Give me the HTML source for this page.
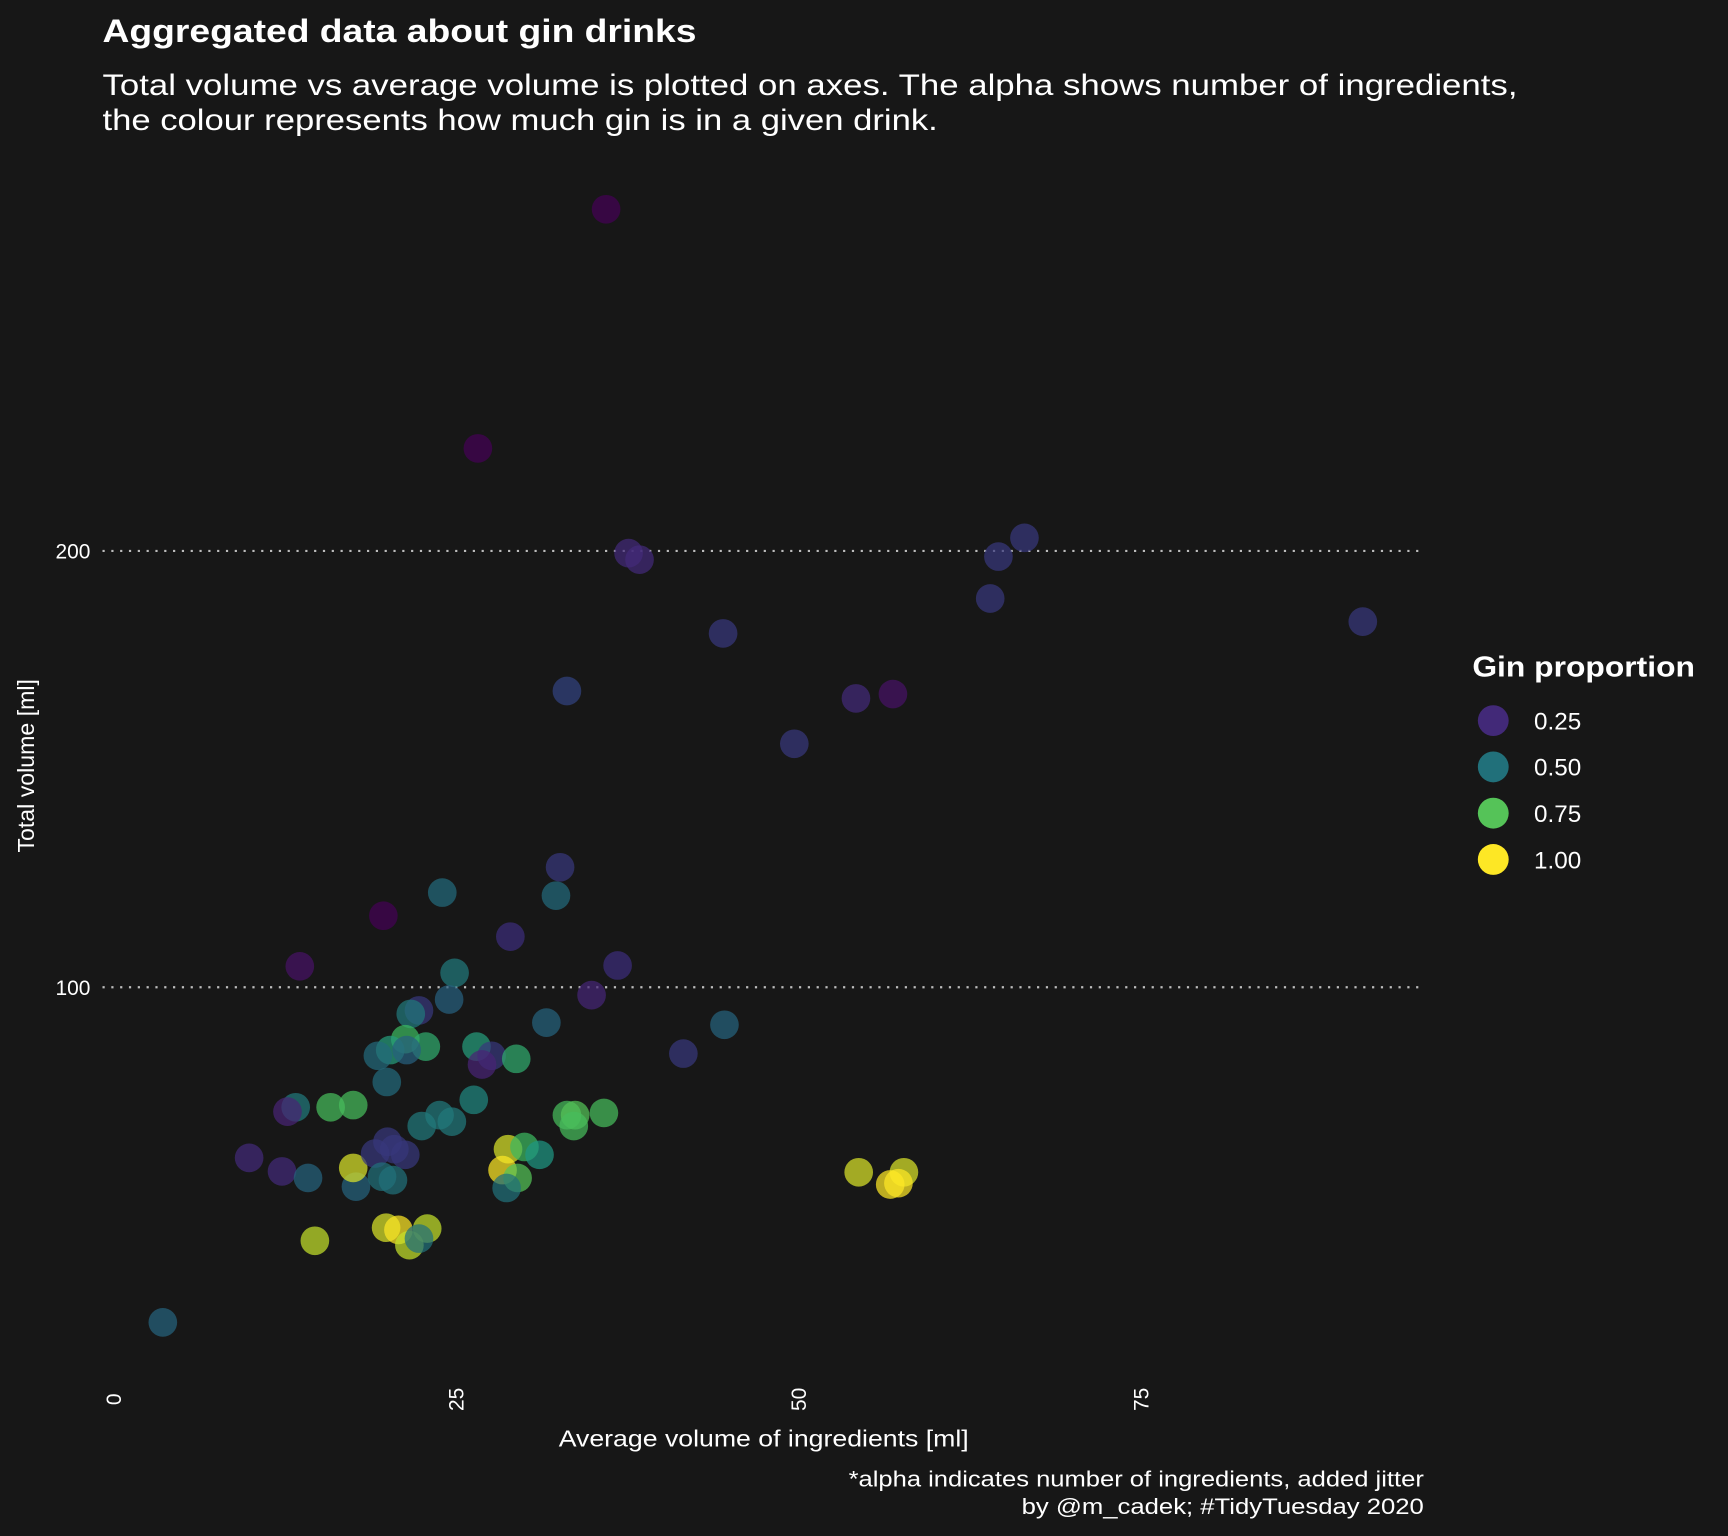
<!DOCTYPE html>
<html><head><meta charset="utf-8"><style>
html,body{margin:0;padding:0;background:#171717;}
svg{display:block;}
text{font-family:"Liberation Sans",Arial,sans-serif;fill:#fff;}
</style></head><body>
<svg id="chart" width="1728" height="1536" viewBox="0 0 1568 1394" preserveAspectRatio="none" xmlns="http://www.w3.org/2000/svg">
<rect width="1568" height="1394" fill="#171717"/>
<text x="93" y="38" font-size="29" font-weight="bold" textLength="539" lengthAdjust="spacingAndGlyphs">Aggregated data about gin drinks</text>
<text x="93" y="86" font-size="27" textLength="1284" lengthAdjust="spacingAndGlyphs">Total volume vs average volume is plotted on axes. The alpha shows number of ingredients,</text>
<text x="93" y="118" font-size="27" textLength="758" lengthAdjust="spacingAndGlyphs">the colour represents how much gin is in a given drink.</text>
<g id="grid"></g>
<g id="points"></g>
<g id="axes"></g>
<text x="507" y="1313" font-size="21" textLength="372" lengthAdjust="spacingAndGlyphs">Average volume of ingredients [ml]</text>
<text transform="translate(31,695) rotate(-90)" font-size="21" text-anchor="middle">Total volume [ml]</text>
<text x="770" y="1349" font-size="20" textLength="522" lengthAdjust="spacingAndGlyphs">*alpha indicates number of ingredients, added jitter</text>
<text x="927" y="1374" font-size="20" textLength="365" lengthAdjust="spacingAndGlyphs">by @m_cadek; #TidyTuesday 2020</text>
<g id="legend">
<text x="1336" y="614" font-size="26" font-weight="bold" textLength="202" lengthAdjust="spacingAndGlyphs">Gin proportion</text>
</g>
</svg>
<script>
const avgVolume = [35.96,26.6,37.6,38.4,66.5,64.6,64.0,91.2,44.5,33.1,54.2,56.9,49.7,32.6,24.0,32.3,19.7,28.97,13.6,36.8,24.9,34.9,24.5,22.3,21.7,31.6,44.6,21.3,22.8,26.5,20.2,19.3,21.4,41.6,27.6,29.4,26.9,19.95,13.3,12.7,15.85,17.5,26.3,33.1,33.7,35.8,33.6,23.8,24.7,22.5,9.9,12.3,14.2,17.7,17.5,20.0,20.5,21.3,19.1,19.6,20.4,28.8,30.0,31.1,28.4,29.5,28.7,54.4,57.7,56.7,57.3,14.7,19.9,20.8,22.9,21.6,22.3,3.6];
const totalVolume = [278.3,223.5,199.5,198,203,198.7,189.1,183.8,181.1,167.9,166.2,167.2,155.8,127.5,121.7,121,116.4,111.6,104.8,105,103.3,98.2,97.2,94.7,93.9,91.9,91.4,88.1,86.4,86.4,85.6,84.3,85.6,84.8,84.3,83.6,82.3,78.3,72.5,71.5,72.5,73,74.2,70.7,70.7,71.2,68.2,70.7,69.2,68.2,60.9,57.8,56.3,54.3,58.6,64.6,62.9,61.6,61.9,56.6,55.8,62.9,63.4,61.6,58.1,56.3,54.0,57.6,57.6,54.8,55.1,41.9,44.9,44.4,44.7,40.9,42.4,23.2];
const ginProportion = [0.1,0.1,0.25,0.25,0.33,0.33,0.33,0.33,0.33,0.36,0.25,0.15,0.33,0.33,0.48,0.48,0.1,0.3,0.15,0.3,0.52,0.22,0.45,0.33,0.52,0.46,0.46,0.7,0.66,0.62,0.62,0.48,0.45,0.33,0.33,0.66,0.2,0.48,0.52,0.2,0.72,0.72,0.56,0.72,0.75,0.72,0.72,0.52,0.52,0.52,0.25,0.25,0.46,0.46,0.95,0.33,0.33,0.33,0.33,0.5,0.5,0.95,0.7,0.6,1.0,0.75,0.5,0.95,0.95,1.0,1.0,0.92,0.95,1.0,0.92,0.92,0.5,0.46];
const xTicks = [0,25,50,75];
const yTicks = [100,200];
const legendValues = [0.25,0.5,0.75,1.0];
const legendLabels = ["0.25","0.50","0.75","1.00"];

const NS = "http://www.w3.org/2000/svg";
const xScale = v => 103 + v * 12.43;
const yScale = v => 1292 - v * 3.96;
const vir = [[68,1,84],[72,36,117],[59,45,122],[44,80,130],[33,112,122],[31,150,130],[60,185,95],[110,205,80],[180,222,44],[253,231,37]];
function colour(g){
  let t = Math.max(0, Math.min(1, (g - 0.1) / 0.9)) * (vir.length - 1);
  const i = Math.min(vir.length - 2, Math.floor(t)); const f = t - i;
  const c = vir[i].map((a, k) => Math.round(a + (vir[i+1][k] - a) * f));
  return `rgb(${c[0]},${c[1]},${c[2]})`;
}
const grid = document.getElementById('grid');
yTicks.forEach(v => {
  const l = document.createElementNS(NS, 'line');
  
  
  l.setAttribute('x1', 93); l.setAttribute('x2', 1292);
  l.setAttribute('y1', yScale(v)); l.setAttribute('y2', yScale(v));
  l.setAttribute('stroke', '#bdbdbd'); l.setAttribute('stroke-width', 2);
  l.setAttribute('stroke-dasharray', '2 6');
  grid.appendChild(l);
});
const axes = document.getElementById('axes');
yTicks.forEach(v => {
  const t = document.createElementNS(NS, 'text');
  
  
  t.setAttribute('x', 82); t.setAttribute('y', yScale(v) + 7);
  t.setAttribute('font-size', 19); t.setAttribute('text-anchor', 'end');
  t.textContent = String(v);
  axes.appendChild(t);
});
xTicks.forEach(v => {
  const t = document.createElementNS(NS, 'text');
  
  
  t.setAttribute('transform', `translate(${xScale(v) + 7},1270) rotate(-90)`);
  t.setAttribute('font-size', 19); t.setAttribute('text-anchor', 'middle');
  t.textContent = String(v);
  axes.appendChild(t);
});
const pts = document.getElementById('points');
avgVolume.forEach((x, i) => {
  const c = document.createElementNS(NS, 'circle');
  
  
  c.setAttribute('cx', xScale(x)); c.setAttribute('cy', yScale(totalVolume[i]));
  c.setAttribute('r', 13);
  c.setAttribute('fill', colour(ginProportion[i]));
  c.setAttribute('fill-opacity', 0.72);
  pts.appendChild(c);
});
const leg = document.getElementById('legend');
legendValues.forEach((g, i) => {
  const cy = 654 + i * 42;
  const c = document.createElementNS(NS, 'circle');
  
  
  c.setAttribute('cx', 1355); c.setAttribute('cy', cy); c.setAttribute('r', 14);
  c.setAttribute('fill', colour(g));
  leg.appendChild(c);
  const t = document.createElementNS(NS, 'text');
  
  
  t.setAttribute('x', 1392); t.setAttribute('y', cy + 8);
  t.setAttribute('font-size', 22);
  t.textContent = legendLabels[i];
  leg.appendChild(t);
});
</script>
</body></html>
